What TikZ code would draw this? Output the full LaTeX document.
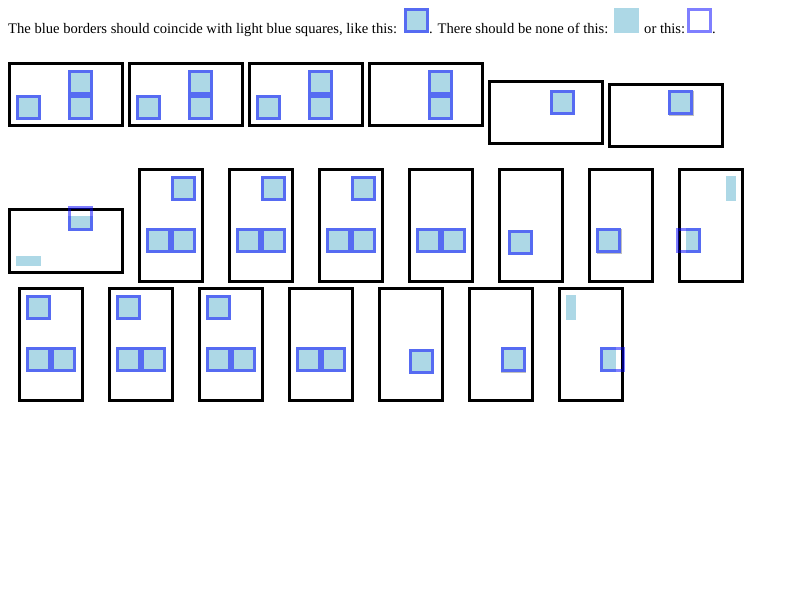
\documentclass[tikz,border=0pt]{standalone}
\usepackage{fontspec}
\setmainfont{Liberation Serif}
\definecolor{lb}{RGB}{173,216,230}
\definecolor{shadowgray}{RGB}{192,192,192}
\tikzset{
  boxst/.style={draw=black,line width=3pt},
  blueborder/.style={draw=blue,draw opacity=0.5,line width=2.7pt},
  lbfill/.style={fill=lb},
  shadowfill/.style={fill=shadowgray},
  txt/.style={inner sep=0pt,anchor=base west,font=\fontsize{14.6}{17}\selectfont}
}
\newcommand\goodsq[2]{%
  \fill[lbfill] (#1,#2) rectangle ++(25,25);
  \draw[blueborder] (#1+1.35,#2+1.35) rectangle ++(22.3,22.3);}
\newcommand\bordersq[2]{%
  \draw[blueborder] (#1+1.35,#2+1.35) rectangle ++(22.3,22.3);}
\newcommand\shadowsq[2]{%
  \fill[shadowfill] (#1,#2) rectangle ++(25,25);}
\newcommand\outerbox[4]{%
  \draw[boxst] (#1+1.5,#2+1.5) rectangle (#3-1.5,#4-1.5);}
\newcommand\tallbox[2]{\outerbox{#1}{#2}{#1+65.5}{#2+115}}
\begin{document}
\begin{tikzpicture}[x=1pt,y=-1pt]
\useasboundingbox (0,0) rectangle (800,600);
% header
\node[txt] (t1) at (8,33) {The blue borders should coincide with light blue squares, like this:};
\goodsq{404}{8}
\node[txt] (t2) at (429,33) {. There should be none of this:};
\fill[lbfill] (614,8) rectangle (639,33);
\node[txt] (t3) at (644,33) {or this:};
\bordersq{687}{8}
\node[txt] (t4) at (712,33) {.};
% row 1
\outerbox{8}{62}{124}{127}
\goodsq{16}{95}\goodsq{68}{70}\goodsq{68}{95}
\outerbox{128}{62}{244}{127}
\goodsq{136}{95}\goodsq{188}{70}\goodsq{188}{95}
\outerbox{248}{62}{364}{127}
\goodsq{256}{95}\goodsq{308}{70}\goodsq{308}{95}
\outerbox{368}{62}{484}{127}
\goodsq{428}{70}\goodsq{428}{95}
\outerbox{488}{80}{604}{145}
\goodsq{550}{90}
\outerbox{608}{82.5}{724}{147.5}
\shadowsq{669}{91}\goodsq{668}{90}
% row 2
\outerbox{8}{208}{124}{274}
\fill[lbfill] (16,256) rectangle (41,266);
\fill[lbfill] (68,216) rectangle (93,231);
\bordersq{68}{206}
\tallbox{138}{168}
\goodsq{171}{176}\goodsq{146}{228}\goodsq{171}{228}
\tallbox{228}{168}
\goodsq{261}{176}\goodsq{236}{228}\goodsq{261}{228}
\tallbox{318}{168}
\goodsq{351}{176}\goodsq{326}{228}\goodsq{351}{228}
\tallbox{408}{168}
\goodsq{416}{228}\goodsq{441}{228}
\tallbox{498}{168}
\goodsq{508}{230}
\tallbox{588}{168}
\shadowsq{597}{229}\goodsq{596}{228}
\tallbox{678}{168}
\fill[lbfill] (726,176) rectangle (736,201);
\fill[lbfill] (686,228) rectangle (701,253);
\bordersq{676}{228}
% row 3
\tallbox{18}{287}
\goodsq{26}{295}\goodsq{26}{347}\goodsq{51}{347}
\tallbox{108}{287}
\goodsq{116}{295}\goodsq{116}{347}\goodsq{141}{347}
\tallbox{198}{287}
\goodsq{206}{295}\goodsq{206}{347}\goodsq{231}{347}
\tallbox{288}{287}
\goodsq{296}{347}\goodsq{321}{347}
\tallbox{378}{287}
\goodsq{409}{349}
\tallbox{468}{287}
\shadowsq{501}{348}\goodsq{501}{347}
\tallbox{558}{287}
\fill[lbfill] (566,295) rectangle (576,320);
\fill[lbfill] (600,347) rectangle (616,372);
\bordersq{600}{347}
\end{tikzpicture}
\end{document}
